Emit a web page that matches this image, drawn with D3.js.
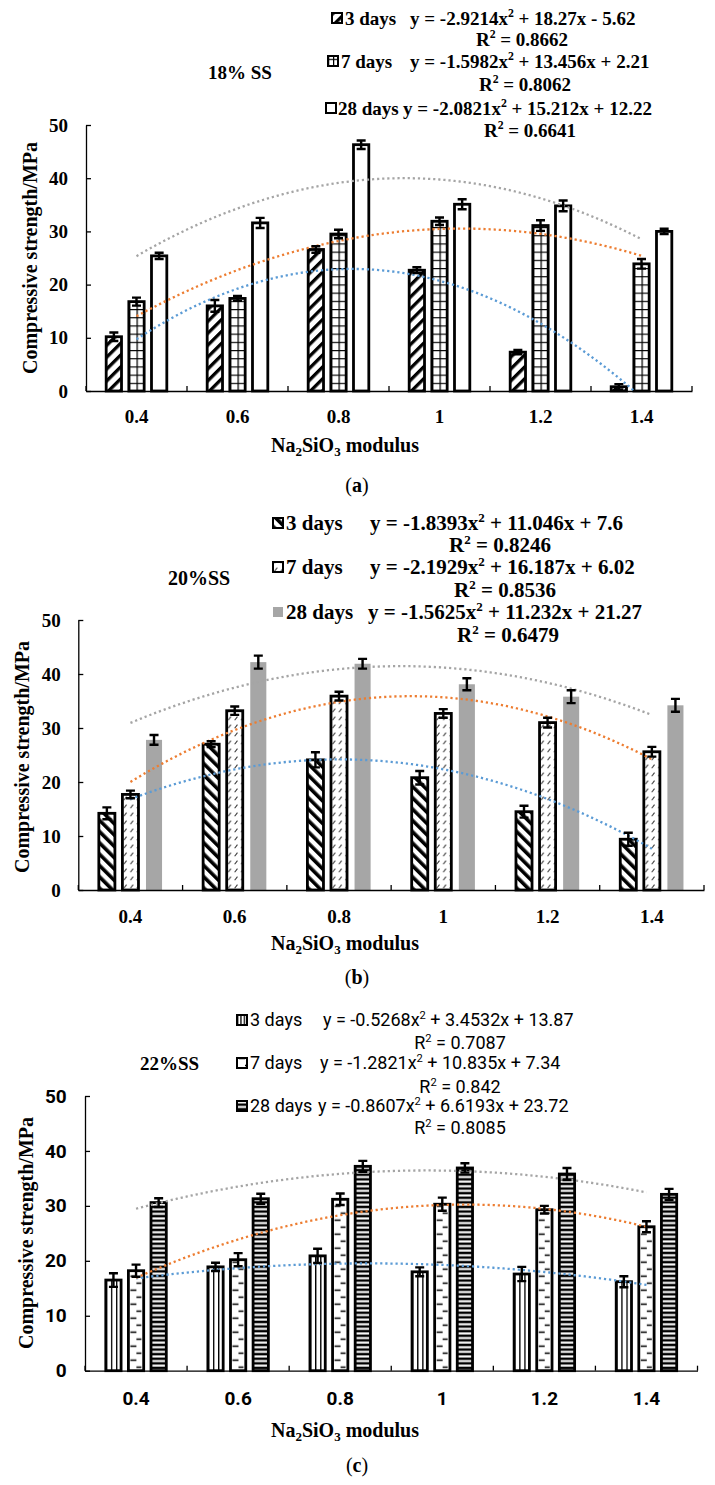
<!DOCTYPE html>
<html><head><meta charset="utf-8">
<script src="https://cdnjs.cloudflare.com/ajax/libs/d3/7.8.5/d3.min.js"></script>
<style>body{margin:0;background:#fff} svg{display:block}</style>
</head><body><svg id="chart" width="715" height="1485"></svg>
<script>
// ---------- data ----------
const categories = ["0.4", "0.6", "0.8", "1", "1.2", "1.4"];
const seriesNames = ["3 days", "7 days", "28 days"];
const yTickValues = [0, 10, 20, 30, 40, 50];

// (a) 18% SS
const a3d = [10.2, 16.0, 26.6, 22.7, 7.3, 0.8];
const a7d = [16.8, 17.4, 29.5, 31.9, 31.1, 23.9];
const a28d = [25.4, 31.6, 46.3, 35.1, 34.8, 30.0];
const a3dErr = [0.8, 1.1, 0.6, 0.55, 0.4, 0.5];
const a7dErr = [0.75, 0.45, 0.8, 0.7, 1.0, 0.9];
const a28dErr = [0.6, 0.95, 0.8, 0.95, 1.0, 0.5];
const aFitCoef = [[-2.9214, 18.27, -5.62], [-1.5982, 13.456, 2.21], [-2.0821, 15.212, 12.22]];
const aEquations = ["y = -2.9214x² + 18.27x - 5.62", "y = -1.5982x² + 13.456x + 2.21", "y = -2.0821x² + 15.212x + 12.22"];
const aR2 = ["R² = 0.8662", "R² = 0.8062", "R² = 0.6641"];

// (b) 20% SS
const b3d = [14.2, 27.0, 24.1, 20.8, 14.5, 9.4];
const b7d = [17.7, 33.2, 35.9, 32.7, 31.0, 25.6];
const b28d = [27.8, 42.2, 41.9, 38.1, 35.8, 34.2];
const b3dErr = [1.1, 0.55, 1.4, 1.25, 1.1, 1.2];
const b7dErr = [0.7, 0.77, 0.8, 0.8, 0.9, 0.9];
const b28dErr = [0.9, 1.2, 0.9, 1.1, 1.2, 1.2];
const bFitCoef = [[-1.8393, 11.046, 7.6], [-2.1929, 16.187, 6.02], [-1.5625, 11.232, 21.27]];
const bEquations = ["y = -1.8393x² + 11.046x + 7.6", "y = -2.1929x² + 16.187x + 6.02", "y = -1.5625x² + 11.232x + 21.27"];
const bR2 = ["R² = 0.8246", "R² = 0.8536", "R² = 0.6479"];

// (c) 22% SS
const c3d = [16.5, 18.9, 20.9, 18.0, 17.6, 16.2];
const c7d = [18.2, 20.2, 31.2, 30.3, 29.3, 26.2];
const c28d = [30.6, 31.3, 37.2, 36.9, 35.8, 32.1];
const c3dErr = [1.25, 0.75, 1.3, 0.8, 1.3, 1.0];
const c7dErr = [1.1, 1.2, 1.05, 1.2, 0.7, 1.0];
const c28dErr = [0.8, 0.9, 1.0, 0.85, 1.1, 1.0];
const cFitCoef = [[-0.5268, 3.4532, 13.87], [-1.2821, 10.835, 7.34], [-0.8607, 6.6193, 23.72]];
const cEquations = ["y = -0.5268x² + 3.4532x + 13.87", "y = -1.2821x² + 10.835x + 7.34", "y = -0.8607x² + 6.6193x + 23.72"];
const cR2 = ["R² = 0.7087", "R² = 0.842", "R² = 0.8085"];

const trendColors = ["#5B9BD5", "#ED7D31", "#A5A5A5"];

// ---------- drawing ----------
const svg = d3.select("#chart");
const defs = svg.append("defs");
let pid = 0;
const SERIF = "'Liberation Serif','Times New Roman',serif";
const SANS = "Roboto,'Open Sans','Liberation Sans',sans-serif";

function makeFill(kind, ox, oy, w) {
  if (kind === "white") return "#fff";
  if (kind === "gray") return "#a6a6a6";
  const id = "pat" + (pid++);
  const p = defs.append("pattern").attr("id", id).attr("patternUnits", "userSpaceOnUse");
  if (kind === "diagUp" || kind === "diagDown") {
    const s = kind === "diagUp" ? 8.4 : 8.0;
    p.attr("width", s).attr("height", s)
     .attr("patternTransform", `translate(${ox},${oy}) rotate(${kind === "diagUp" ? 45 : -45})`);
    p.append("rect").attr("width", s).attr("height", s).attr("fill", "#fff");
    p.append("rect").attr("width", kind === "diagUp" ? 3.3 : 3.6).attr("height", s).attr("fill", "#000");
  } else if (kind === "grid") {
    const tw = w / 2, th = 8.2;
    p.attr("x", ox).attr("y", oy).attr("width", tw).attr("height", th);
    p.append("rect").attr("width", tw).attr("height", th).attr("fill", "#fff");
    p.append("path").attr("d", `M0.6,0V${th}M0,0.6H${tw}`).attr("stroke", "#000").attr("stroke-width", 1.3);
  } else if (kind === "slash") {
    p.attr("x", ox).attr("y", oy).attr("width", 6.5).attr("height", 8);
    p.append("rect").attr("width", 6.5).attr("height", 8).attr("fill", "#fff");
    p.append("path").attr("d", "M1.5,6.2L4.2,2.6").attr("stroke", "#333").attr("stroke-width", 1);
  } else if (kind === "vlines") {
    const tw = w / 3;
    p.attr("x", ox).attr("y", oy).attr("width", tw).attr("height", 10);
    p.append("rect").attr("width", tw).attr("height", 10).attr("fill", "#fff");
    p.append("rect").attr("x", 0).attr("width", 1.3).attr("height", 10).attr("fill", "#000");
  } else if (kind === "hdash") {
    p.attr("x", ox).attr("y", oy).attr("width", 14).attr("height", 14);
    p.append("rect").attr("width", 14).attr("height", 14).attr("fill", "#fff");
    p.append("path").attr("d", "M2,3.5H8M8,10.5H13").attr("stroke", "#000").attr("stroke-width", 1.5);
  } else if (kind === "hstripes") {
    p.attr("x", ox).attr("y", oy).attr("width", 10).attr("height", 4.6);
    p.append("rect").attr("width", 10).attr("height", 4.6).attr("fill", "#fff");
    p.append("rect").attr("y", 0.6).attr("width", 10).attr("height", 2.5).attr("fill", "#000");
  }
  return `url(#${id})`;
}

function richText(sel, str, size) {
  const parts = str.split("²");
  sel.append("tspan").text(parts[0]);
  if (parts.length > 1) {
    sel.append("tspan").attr("dy", -size * 0.38).attr("font-size", size * 0.62).text("2");
    sel.append("tspan").attr("dy", size * 0.38).text(parts[1]);
  }
}

function drawPanel(cfg) {
  const g = svg.append("g");
  const x0 = d3.scaleBand().domain(categories).range([cfg.left, cfg.right]).padding(0);
  const y = d3.scaleLinear().domain([0, 50]).range([cfg.bottom, cfg.top]);
  const gw = x0.bandwidth() * cfg.groupFrac;
  const x1 = d3.scaleBand().domain(seriesNames).range([-gw / 2, gw / 2]).paddingInner(0.2);
  const sw = 2.8;

  // bars
  cfg.series.forEach((s, si) => {
    const name = seriesNames[si];
    s.values.forEach((v, ci) => {
      const bx = x0(categories[ci]) + x0.bandwidth() / 2 + x1(name);
      const bw = x1.bandwidth();
      const rx = bx + sw / 2, rw = bw - sw;
      const fill = makeFill(s.kind, rx, y(0), rw);
      g.append("rect").attr("x", rx).attr("y", y(v)).attr("width", rw).attr("height", y(0) - y(v))
        .attr("fill", fill)
        .attr("stroke", s.kind === "gray" ? "none" : "#000").attr("stroke-width", sw);
    });
  });

  // trend lines
  const clipId = "clip" + (pid++);
  defs.append("clipPath").attr("id", clipId).append("rect")
    .attr("x", cfg.left).attr("y", cfg.top - 20).attr("width", cfg.right - cfg.left).attr("height", cfg.bottom - cfg.top + 20);
  const xc = t => x0(categories[0]) + x0.bandwidth() / 2 + (t - 1) * x0.step();
  const ts = d3.range(1, 6.001, 0.05);
  cfg.fits.forEach((c, i) => {
    const line = d3.line().x(t => xc(t)).y(t => y(c[0] * t * t + c[1] * t + c[2]));
    g.append("path").attr("d", line(ts)).attr("fill", "none")
      .attr("stroke", trendColors[i]).attr("stroke-width", 2.3)
      .attr("stroke-dasharray", "2.2 2.9").attr("clip-path", `url(#${clipId})`);
  });

  // error bars
  cfg.series.forEach((s, si) => {
    const name = seriesNames[si];
    s.values.forEach((v, ci) => {
      const cx = x0(categories[ci]) + x0.bandwidth() / 2 + x1(name) + x1.bandwidth() / 2;
      const e = s.errs[ci];
      const y1 = y(v + e), y2 = y(Math.max(v - e, 0));
      g.append("path").attr("d", `M${cx},${y1}V${y2}M${cx - 4.5},${y1}H${cx + 4.5}M${cx - 4.5},${y2}H${cx + 4.5}`)
        .attr("stroke", "#000").attr("stroke-width", 2.4).attr("fill", "none");
    });
  });

  // axes (y ticks point inward)
  const yAx = g.append("g").attr("transform", `translate(${cfg.left},0)`)
    .call(d3.axisLeft(y).tickValues(yTickValues).tickSize(-5).tickSizeOuter(0).tickPadding(cfg.yLabelGap));
  yAx.select(".domain").attr("stroke", "#000").attr("stroke-width", 1.3);
  yAx.selectAll(".tick line").attr("stroke", "#000").attr("stroke-width", 1.3);
  yAx.selectAll("text").attr("font-family", cfg.tickFont).attr("font-weight", "bold")
    .attr("font-size", cfg.tickSize).attr("fill", "#000").attr("x", -cfg.yLabelGap);

  const xAx = g.append("g").attr("transform", `translate(0,${cfg.bottom})`)
    .call(d3.axisBottom(x0).tickSize(0).tickSizeOuter(0));
  xAx.select(".domain").attr("stroke", "#000").attr("stroke-width", 1.3);
  xAx.selectAll("text").attr("font-family", cfg.tickFont).attr("font-weight", "bold")
    .attr("font-size", cfg.tickSize).attr("fill", "#000").attr("y", cfg.xLabelOffset).attr("dy", "0.35em");
  // category boundary ticks (inside)
  g.selectAll(null).data(categories.concat(["end"])).join("line")
    .attr("x1", (d, i) => cfg.left + i * x0.step()).attr("x2", (d, i) => cfg.left + i * x0.step())
    .attr("y1", cfg.bottom).attr("y2", cfg.bottom - 5).attr("stroke", "#000").attr("stroke-width", 1.3);

  // axis titles
  g.append("text").attr("transform", `translate(${cfg.yTitle[0]},${cfg.yTitle[1]}) rotate(-90)`)
    .attr("text-anchor", "middle").attr("dy", "0.35em")
    .attr("font-family", SERIF).attr("font-weight", "bold").attr("font-size", cfg.yTitleSize)
    .text("Compressive strength/MPa");
  const xt = g.append("text").attr("x", cfg.xTitle[0]).attr("y", cfg.xTitle[1]).attr("dy", "0.35em")
    .attr("text-anchor", "middle").attr("font-family", SERIF).attr("font-weight", "bold").attr("font-size", cfg.titleSize);
  xt.append("tspan").text("Na");
  xt.append("tspan").attr("font-size", cfg.titleSize * 0.65).attr("dy", 4).text("2");
  xt.append("tspan").attr("dy", -4).text("SiO");
  xt.append("tspan").attr("font-size", cfg.titleSize * 0.65).attr("dy", 4).text("3");
  xt.append("tspan").attr("dy", -4).text(" modulus");

  // caption
  const cap = g.append("text").attr("x", cfg.caption[0]).attr("y", cfg.caption[1]).attr("dy", "0.35em")
    .attr("text-anchor", "middle").attr("font-family", SERIF).attr("font-size", 20);
  cap.append("tspan").text("(");
  cap.append("tspan").attr("font-weight", "bold").text(cfg.captionLetter);
  cap.append("tspan").text(")");

  // legend
  const L = cfg.legend;
  g.append("text").attr("x", L.labelPos[0]).attr("y", L.labelPos[1]).attr("dy", "0.35em")
    .attr("font-family", SERIF).attr("font-weight", "bold").attr("font-size", L.labelSize).text(L.label);
  cfg.series.forEach((s, si) => {
    const ry = L.rowY[si];
    const is = 12;
    const ix = L.iconX[si];
    const fill = makeFill(s.kind, ix + 1, ry + is / 2, is - 2);
    g.append("rect").attr("x", ix + 1).attr("y", ry - is / 2 + 1).attr("width", is - 2).attr("height", is - 2)
      .attr("fill", fill).attr("stroke", s.kind === "gray" ? "none" : "#000").attr("stroke-width", 2);
    g.append("text").attr("x", L.nameX[si]).attr("y", ry).attr("dy", "0.35em")
      .attr("font-family", L.font).attr("font-weight", L.weight).attr("font-size", L.size)
      .text(seriesNames[si]);
    const eq = g.append("text").attr("x", L.eqX[si]).attr("y", ry).attr("dy", "0.35em")
      .attr("font-family", L.font).attr("font-weight", L.weight).attr("font-size", L.size);
    richText(eq, cfg.equations[si], L.size);
    const r2 = g.append("text").attr("x", L.r2X[si]).attr("y", L.r2Y[si]).attr("dy", "0.35em")
      .attr("text-anchor", "middle")
      .attr("font-family", L.font).attr("font-weight", L.weight).attr("font-size", L.size);
    richText(r2, cfg.r2[si], L.size);
  });
}

drawPanel({
  left: 86, right: 692, top: 125, bottom: 391, groupFrac: 0.628,
  series: [
    { values: a3d, errs: a3dErr, kind: "diagUp" },
    { values: a7d, errs: a7dErr, kind: "grid" },
    { values: a28d, errs: a28dErr, kind: "white" }
  ],
  fits: aFitCoef, equations: aEquations, r2: aR2,
  tickFont: SERIF, tickSize: 19, yLabelGap: 18, xLabelOffset: 25, titleSize: 20, yTitleSize: 20,
  yTitle: [30, 258], xTitle: [345, 445], caption: [357, 485], captionLetter: "a",
  legend: {
    font: SERIF, weight: "bold", size: 19, label: "18% SS", labelPos: [208, 72], labelSize: 19,
    iconX: [331, 327, 325], nameX: [345, 341, 338], eqX: [410, 410, 403], rowY: [18, 61, 108],
    r2X: [522, 525, 530], r2Y: [39, 84, 130]
  }
});

drawPanel({
  left: 78.3, right: 704, top: 620, bottom: 890, groupFrac: 0.633,
  series: [
    { values: b3d, errs: b3dErr, kind: "diagDown" },
    { values: b7d, errs: b7dErr, kind: "slash" },
    { values: b28d, errs: b28dErr, kind: "gray" }
  ],
  fits: bFitCoef, equations: bEquations, r2: bR2,
  tickFont: SERIF, tickSize: 19, yLabelGap: 17.6, xLabelOffset: 26, titleSize: 20, yTitleSize: 20,
  yTitle: [22, 757], xTitle: [345, 943], caption: [357, 977], captionLetter: "b",
  legend: {
    font: SERIF, weight: "bold", size: 21, label: "20%SS", labelPos: [168, 578], labelSize: 20,
    iconX: [272, 272, 272], nameX: [286, 286, 286], eqX: [370, 370, 368], rowY: [523, 567, 612],
    r2X: [500, 505, 508], r2Y: [545, 590, 635]
  }
});

drawPanel({
  left: 85, right: 697.5, top: 1096, bottom: 1370.7, groupFrac: 0.62,
  series: [
    { values: c3d, errs: c3dErr, kind: "vlines" },
    { values: c7d, errs: c7dErr, kind: "hdash" },
    { values: c28d, errs: c28dErr, kind: "hstripes" }
  ],
  fits: cFitCoef, equations: cEquations, r2: cR2,
  tickFont: SANS, tickSize: 19, yLabelGap: 18.3, xLabelOffset: 28, titleSize: 20, yTitleSize: 20,
  yTitle: [26, 1233], xTitle: [345, 1430], caption: [357, 1465], captionLetter: "c",
  legend: {
    font: SANS, weight: "normal", size: 18, label: "22%SS", labelPos: [140, 1063], labelSize: 19,
    iconX: [236, 236, 236], nameX: [250, 250, 250], eqX: [323, 320, 318], rowY: [1020, 1063, 1106],
    r2X: [460, 460, 460], r2Y: [1043, 1087, 1128]
  }
});
</script></body></html>
